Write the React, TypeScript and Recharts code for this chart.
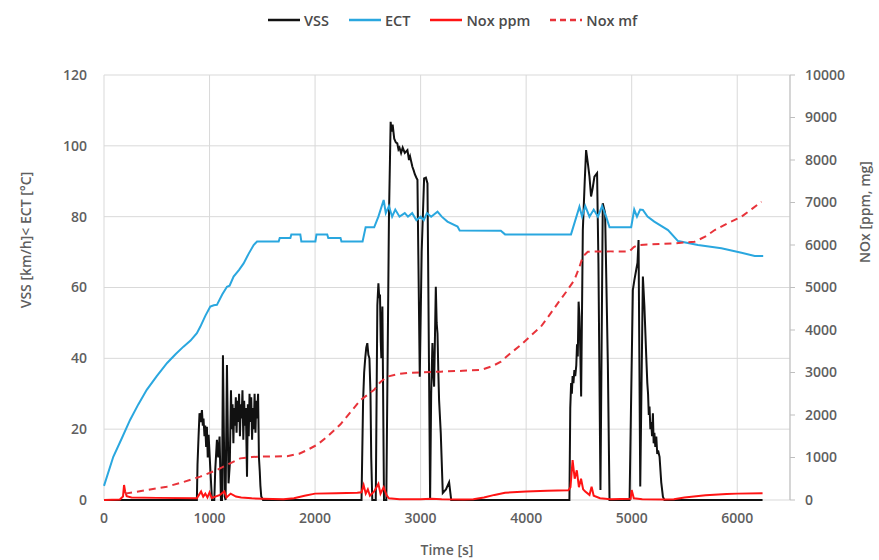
import { ComposedChart, Line, XAxis, YAxis, CartesianGrid } from 'recharts'

// time [s], speed [km/h]
const vssPoints: [number, number][] = [
  [0, 0], [880, 0], [886, 10], [896, 18], [905, 24.5], [915, 22], [928, 25.4], [936, 21], [943, 23],
  [952, 18], [959, 21], [968, 15], [975, 20.7], [983, 12], [991, 18.4], [1007, 9], [1023, 0],
  [1045, 0], [1054, 8.5], [1070, 17], [1082, 12], [1095, 17.9], [1108, 0], [1118, 0], [1127, 40.9],
  [1143, 1], [1152, 0], [1165, 38.1], [1180, 4.7], [1192, 10], [1203, 31], [1211, 20], [1218, 27],
  [1226, 16], [1233, 26], [1241, 21], [1249, 29], [1256, 19], [1264, 28], [1272, 22], [1280, 30],
  [1288, 18], [1296, 27], [1304, 23], [1312, 31], [1320, 17], [1328, 28], [1336, 21], [1344, 26],
  [1355, 6.6], [1363, 27], [1371, 18], [1379, 30], [1387, 22], [1395, 29], [1403, 17], [1411, 26],
  [1419, 20], [1427, 30], [1435, 19], [1443, 28], [1451, 23], [1460, 30], [1468, 12], [1476, 8],
  [1482, 4], [1490, 1], [1507, 0],
  [2440, 0], [2455, 28], [2465, 36], [2475, 40], [2485, 43], [2495, 44.3], [2505, 41], [2515, 40],
  [2525, 30], [2532, 12], [2542, 0], [2575, 0], [2590, 55], [2600, 61.2], [2608, 57], [2615, 58],
  [2622, 45], [2628, 40], [2638, 54.6], [2653, 0], [2675, 0], [2700, 80], [2716, 106.8], [2725, 104],
  [2735, 106], [2750, 102], [2765, 101], [2779, 100.7], [2790, 99], [2800, 99.5], [2815, 98],
  [2830, 99.5], [2850, 98], [2875, 98.8], [2890, 96], [2900, 97], [2922, 94.1], [2935, 93],
  [2945, 92], [2960, 91], [2970, 90.4], [2992, 34.8], [3010, 70], [3033, 90.8], [3050, 91],
  [3065, 89.4], [3090, 0], [3100, 30], [3112, 44.3], [3120, 36], [3128, 32], [3144, 60.2],
  [3152, 50], [3160, 47], [3168, 36], [3175, 28.2], [3191, 18.8], [3210, 2], [3240, 3], [3270, 5],
  [3290, 0], [4410, 0], [4418, 26], [4426, 33], [4433, 30], [4440, 35], [4448, 33], [4457, 36.7],
  [4465, 35], [4475, 38], [4482, 44], [4489, 40.5], [4497, 56], [4505, 51.8], [4513, 42],
  [4521, 29.2], [4537, 76.2], [4555, 90], [4568, 98.8], [4585, 95], [4600, 91.3], [4615, 85.7],
  [4630, 88], [4647, 91.3], [4672, 92.3], [4685, 66.8], [4704, 2.8], [4726, 83.8], [4748, 81],
  [4774, 38.6], [4790, 0], [4980, 0], [4995, 29.2], [5011, 59.3], [5025, 62], [5043, 65], [5055, 67],
  [5065, 73.4], [5081, 3.8], [5106, 63.1], [5120, 55], [5138, 40.5], [5148, 33], [5155, 30],
  [5162, 24], [5169, 26.4], [5177, 20], [5185, 22], [5193, 18], [5201, 24.5], [5208, 16],
  [5215, 19], [5224, 15], [5233, 17.9], [5242, 13], [5250, 14], [5264, 12.2], [5280, 5],
  [5296, 0.9], [5310, 0], [6240, 0],
]

// time [s], coolant temperature [°C]
const ectPoints: [number, number][] = [
  [0, 4], [88, 12.2], [170, 17.5], [247, 22.6], [325, 27], [405, 31.1], [500, 35], [598, 38.7],
  [680, 41.2], [753, 43.3], [820, 45], [880, 47.1], [912, 48.9], [960, 52], [1007, 54.6],
  [1040, 55], [1070, 55.1], [1120, 58], [1165, 60.2], [1190, 60.5], [1228, 63.1], [1280, 65],
  [1323, 66.8], [1370, 69.5], [1418, 72], [1450, 73], [1655, 73], [1665, 74], [1766, 74], [1775, 75],
  [1860, 75], [1870, 73], [2003, 73], [2013, 75], [2115, 75], [2125, 74], [2241, 74], [2250, 73],
  [2450, 73], [2479, 77], [2560, 77], [2600, 80], [2621, 82], [2650, 84.7], [2670, 81], [2700, 83],
  [2730, 80], [2760, 82], [2800, 80], [2850, 81], [2880, 80], [2920, 81], [2960, 79], [3000, 80],
  [3030, 79], [3060, 81], [3100, 80], [3160, 81.4], [3200, 80], [3254, 78.6], [3350, 77.2],
  [3370, 76.1], [3760, 76], [3800, 75], [4425, 75], [4505, 82.8], [4530, 80], [4560, 83],
  [4600, 80], [4640, 82], [4680, 80], [4720, 83], [4758, 80], [4790, 77], [4995, 77], [5024, 82],
  [5050, 80], [5080, 82], [5106, 81.9], [5150, 80], [5214, 78.6], [5344, 76.2], [5439, 73.1],
  [5628, 72], [5850, 71.1], [6040, 69.8], [6166, 68.9], [6246, 68.9],
]

// time [s], NOx concentration [ppm]
const noxPpmPoints: [number, number][] = [
  [0, 0], [150, 10], [180, 80], [190, 353], [200, 200], [215, 90], [260, 60], [500, 50], [880, 40],
  [900, 120], [920, 200], [940, 80], [960, 150], [980, 60], [1000, 180], [1020, 50], [1100, 120],
  [1140, 200], [1160, 60], [1200, 150], [1250, 80], [1300, 60], [1400, 40], [1500, 30], [1700, 20],
  [1800, 40], [1900, 100], [2000, 150], [2200, 160], [2400, 170], [2440, 180], [2460, 350],
  [2480, 150], [2500, 250], [2520, 100], [2560, 200], [2600, 380], [2620, 150], [2650, 300],
  [2680, 100], [2700, 40], [2800, 20], [3000, 15], [3100, 30], [3200, 15], [3400, 10], [3500, 20],
  [3600, 60], [3700, 120], [3800, 170], [4000, 200], [4200, 220], [4400, 230], [4420, 300],
  [4440, 940], [4460, 500], [4480, 700], [4500, 300], [4520, 500], [4540, 250], [4560, 200],
  [4600, 120], [4620, 313], [4640, 100], [4700, 40], [4800, 20], [4990, 30], [5000, 235],
  [5020, 40], [5100, 20], [5300, 10], [5400, 20], [5500, 60], [5700, 110], [5900, 140],
  [6000, 150], [6240, 160],
]

// time [s], cumulative NOx mass [mg]
const noxMfPoints: [number, number][] = [
  [200, 150], [400, 230], [595, 314], [750, 420], [912, 549], [1070, 706], [1200, 870], [1291, 980],
  [1400, 1010], [1481, 1020], [1735, 1030], [1850, 1090], [1925, 1176], [2020, 1300], [2115, 1490],
  [2241, 1780], [2330, 2050], [2431, 2353], [2500, 2480], [2557, 2588], [2620, 2780], [2684, 2902],
  [2780, 2960], [2875, 2990], [3191, 3020], [3400, 3040], [3571, 3060], [3680, 3150], [3761, 3255],
  [3850, 3450], [3950, 3650], [4050, 3880], [4140, 4078], [4220, 4350], [4299, 4628], [4380, 4900],
  [4457, 5177], [4500, 5450], [4537, 5725], [4584, 5843], [4800, 5850], [4978, 5850], [5020, 5950],
  [5059, 6000], [5407, 6040], [5597, 6078], [5700, 6200], [5787, 6353], [5900, 6500], [6040, 6666],
  [6140, 6850], [6230, 7019],
]

const timeTicks = [0, 1000, 2000, 3000, 4000, 5000, 6000]
const leftTicks = [0, 20, 40, 60, 80, 100, 120]
const rightTicks = [0, 1000, 2000, 3000, 4000, 5000, 6000, 7000, 8000, 9000, 10000]

const toRows = (pts: [number, number][]) => pts.map(([t, v]) => ({ t, v }))

const SERIES = [
  { name: 'VSS', data: toRows(vssPoints), axis: 'left', color: '#111111', dash: undefined },
  { name: 'ECT', data: toRows(ectPoints), axis: 'left', color: '#2aa7df', dash: undefined },
  { name: 'Nox ppm', data: toRows(noxPpmPoints), axis: 'right', color: '#ff1414', dash: undefined },
  { name: 'Nox mf', data: toRows(noxMfPoints), axis: 'right', color: '#e8333a', dash: '7 5' },
]

const FONT = '"Open Sans", Lato, sans-serif'
const TEXT = '#5f5f5f'
const tick = { fill: TEXT, fontSize: 14, fontFamily: FONT, fontWeight: 600 }

export default function App() {
  return (
    <div style={{ position: 'absolute', left: 0, top: 0, width: 879, height: 560, background: '#fff' }}>
      {/* legend */}
      <div
        style={{
          position: 'absolute', top: 10, left: 268, display: 'flex', alignItems: 'center', gap: 20,
          fontFamily: FONT, fontSize: 14.5, fontWeight: 600, color: '#4a4a4a', height: 20,
        }}
      >
        {SERIES.map((s) => (
          <span key={s.name} style={{ display: 'flex', alignItems: 'center', gap: 4 }}>
            <svg width={32} height={4}>
              <line x1={0} y1={2} x2={32} y2={2} stroke={s.color} strokeWidth={2.5} strokeDasharray={s.dash ? '6 4' : undefined} />
            </svg>
            {s.name}
          </span>
        ))}
      </div>

      <ComposedChart width={879} height={560} margin={{ top: 75, right: 12, left: 20, bottom: 20 }}>
        <CartesianGrid yAxisId="left" stroke="#d9d9d9" strokeWidth={1} />
        <XAxis
          dataKey="t"
          type="number"
          domain={[0, 6500]}
          ticks={timeTicks}
          allowDuplicatedCategory={false}
          axisLine={false}
          tickLine={false}
          tickSize={0}
          tickMargin={13}
          height={40}
          tick={tick}
          label={{
            content: () => (
              <text x={447} y={549} textAnchor="middle" dominantBaseline="central" fill={TEXT} fontSize={14} fontWeight={600} fontFamily={FONT}>
                Time [s]
              </text>
            ),
          }}
        />
        <YAxis
          yAxisId="left"
          domain={[0, 120]}
          ticks={leftTicks}
          axisLine={false}
          tickLine={false}
          tickSize={0}
          tickMargin={17}
          width={84}
          tick={tick}
          label={{
            content: () => (
              <text x={25} y={240} transform="rotate(-90 25 240)" textAnchor="middle" dominantBaseline="central" fill={TEXT} fontSize={14} fontWeight={600} fontFamily={FONT}>
                VSS [km/h]&lt; ECT [°C]
              </text>
            ),
          }}
        />
        <YAxis
          yAxisId="right"
          orientation="right"
          domain={[0, 10000]}
          ticks={rightTicks}
          axisLine={{ stroke: '#bfbfbf' }}
          tickLine={{ stroke: '#bfbfbf' }}
          tickSize={5}
          tickMargin={10}
          width={77}
          tick={{ ...tick, textAnchor: 'start' }}
          label={{
            content: () => (
              <text x={864} y={212} transform="rotate(-90 864 212)" textAnchor="middle" dominantBaseline="central" fill={TEXT} fontSize={14} fontWeight={600} fontFamily={FONT}>
                NOx [ppm, mg]
              </text>
            ),
          }}
        />
        {SERIES.map((s) => (
          <Line
            key={s.name}
            yAxisId={s.axis}
            data={s.data}
            dataKey="v"
            name={s.name}
            type="linear"
            stroke={s.color}
            strokeWidth={2}
            strokeDasharray={s.dash}
            dot={false}
            activeDot={false}
            isAnimationActive={false}
          />
        ))}
      </ComposedChart>
    </div>
  )
}
